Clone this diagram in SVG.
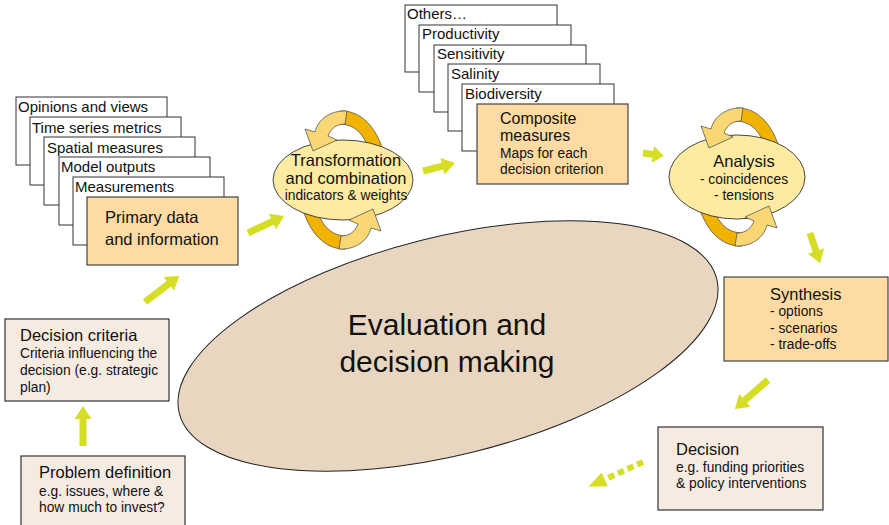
<svg xmlns="http://www.w3.org/2000/svg" xmlns:xlink="http://www.w3.org/1999/xlink" width="889" height="525" viewBox="0 0 889 525">
<style>
text{font-family:"Liberation Sans",Arial,sans-serif;fill:#111}
.lbl{font-size:15px}
.ttl{font-size:16.5px}
.sub{font-size:13.8px}
.big{font-size:30px}
.stk{fill:#fff;stroke:#333;stroke-width:1}
.hot{fill:#FDDBA2;stroke:#444;stroke-width:1.2}
.bei{fill:#F5EBE1;stroke:#333;stroke-width:1.2}
.ell{fill:#FCEBA1;stroke:#333;stroke-width:0.9}
.arw{fill:#D5DE24}
.dash{fill:none;stroke:#D5DE24;stroke-width:6;stroke-dasharray:6.5 4}
.dk{fill:#EFB300;stroke:#444;stroke-width:0.7}
.lt{fill:#F9D775;stroke:#444;stroke-width:0.7}
</style>
<defs>
<g id="twBack">
<path class="dk" d="M-3,-69 C14,-70 31,-58 40,-30 L25,-33 C19,-49 9,-56 -4,-56 Z"/>
<path class="dk" transform="rotate(180)" d="M-3,-69 C14,-70 31,-58 40,-30 L25,-33 C19,-49 9,-56 -4,-56 Z"/>
</g>
<g id="twFront">
<path class="lt" d="M4,-69 C-12,-70 -25,-61 -28,-48 L-38,-51 L-30,-29 L-6,-40 L-15,-44 C-12,-52 -6,-56 2,-56 Z"/>
<path class="lt" transform="rotate(180)" d="M4,-69 C-12,-70 -25,-61 -28,-48 L-38,-51 L-30,-29 L-6,-40 L-15,-44 C-12,-52 -6,-56 2,-56 Z"/>
</g>
</defs>

<g id="evaluation">
<ellipse cx="448" cy="346" rx="277" ry="109" transform="rotate(-14 448 346)" fill="#E9D6C1" stroke="#222" stroke-width="1"/>
<text class="big" x="447" y="335" text-anchor="middle">Evaluation and</text>
<text class="big" x="447" y="372" text-anchor="middle">decision making</text>
</g>

<g id="connectors">
<path class="arw" transform="translate(83,446) rotate(-90)" d="M0,-3.5 H27 V-8.5 L40,0 L27,8.5 V3.5 H0 Z"/>
<path class="arw" transform="translate(145,302) rotate(-37.4)" d="M0,-3.5 H30 V-8.5 L43,0 L30,8.5 V3.5 H0 Z"/>
<path class="arw" transform="translate(248,233) rotate(-25.3)" d="M0,-3.5 H27 V-8.5 L40,0 L27,8.5 V3.5 H0 Z"/>
<path class="arw" transform="translate(423,171) rotate(-14)" d="M0,-3.5 H20 V-8.5 L33,0 L20,8.5 V3.5 H0 Z"/>
<path class="arw" transform="translate(643,153) rotate(8)" d="M0,-3.5 H10 V-8.5 L21,0 L10,8.5 V3.5 H0 Z"/>
<path class="arw" transform="translate(810,233) rotate(71.6)" d="M0,-3.5 H19 V-8.5 L32,0 L19,8.5 V3.5 H0 Z"/>
<path class="arw" transform="translate(768,380) rotate(138.7)" d="M0,-3.5 H31 V-8.5 L44,0 L31,8.5 V3.5 H0 Z"/>
<g transform="translate(643,462) rotate(155.6)">
<line class="dash" x1="0" y1="0" x2="38" y2="0"/>
<path class="arw" d="M42,-7.5 L60,0 L42,7.5 Z"/>
</g>
</g>

<g id="primary-data">
<rect class="stk" x="16" y="97" width="151" height="68"/>
<text class="lbl" x="18" y="112">Opinions and views</text>
<rect class="stk" x="30" y="117" width="151" height="68"/>
<text class="lbl" x="32" y="132.5">Time series metrics</text>
<rect class="stk" x="44" y="137" width="151" height="68"/>
<text class="lbl" x="47" y="153">Spatial measures</text>
<rect class="stk" x="59" y="157" width="151" height="68"/>
<text class="lbl" x="61" y="172">Model outputs</text>
<rect class="stk" x="73" y="177" width="151" height="68"/>
<text class="lbl" x="75" y="192">Measurements</text>
<rect class="hot" x="87" y="197" width="151" height="68"/>
<text class="ttl" x="105" y="223">Primary data</text>
<text class="ttl" x="105" y="245">and information</text>
</g>

<g id="composite-measures">
<rect class="stk" x="405" y="5" width="152" height="67"/>
<text class="lbl" x="407" y="19">Others…</text>
<rect class="stk" x="419" y="25" width="152" height="67"/>
<text class="lbl" x="422" y="39">Productivity</text>
<rect class="stk" x="434" y="45" width="152" height="67"/>
<text class="lbl" x="437" y="59">Sensitivity</text>
<rect class="stk" x="448" y="64" width="152" height="67"/>
<text class="lbl" x="451" y="79">Salinity</text>
<rect class="stk" x="462" y="84" width="152" height="67"/>
<text class="lbl" x="465" y="99">Biodiversity</text>
<rect class="hot" x="477" y="104" width="151" height="80"/>
<text class="ttl" x="500" y="124" style="font-size:16px">Composite</text>
<text class="ttl" x="500" y="141" style="font-size:16px">measures</text>
<text class="sub" x="500" y="158">Maps for each</text>
<text class="sub" x="500" y="174">decision criterion</text>
</g>

<g id="transformation">
<use xlink:href="#twBack" transform="translate(343,180)"/>
<ellipse class="ell" cx="343" cy="180" rx="70" ry="40"/>
<use xlink:href="#twFront" transform="translate(343,180)"/>
<text class="ttl" x="346" y="166" text-anchor="middle">Transformation</text>
<text class="ttl" x="346" y="184" text-anchor="middle">and combination</text>
<text class="sub" x="346" y="200" text-anchor="middle">indicators &amp; weights</text>
</g>

<g id="analysis">
<use xlink:href="#twBack" transform="translate(739,177)"/>
<ellipse class="ell" cx="737" cy="177" rx="68" ry="42"/>
<use xlink:href="#twFront" transform="translate(739,177)"/>
<text class="ttl" x="744" y="167" text-anchor="middle">Analysis</text>
<text class="sub" x="744" y="184" text-anchor="middle">- coincidences</text>
<text class="sub" x="744" y="200" text-anchor="middle">- tensions</text>
</g>

<g id="synthesis">
<rect class="hot" x="724" y="277" width="164" height="84"/>
<text class="ttl" x="770" y="300">Synthesis</text>
<text class="sub" x="770" y="316">- options</text>
<text class="sub" x="770" y="333">- scenarios</text>
<text class="sub" x="770" y="349">- trade-offs</text>
</g>

<g id="decision">
<rect class="bei" x="658" y="427" width="165" height="83"/>
<text class="ttl" x="676" y="455">Decision</text>
<text class="sub" x="676" y="472">e.g. funding priorities</text>
<text class="sub" x="676" y="488">&amp; policy interventions</text>
</g>

<g id="decision-criteria">
<rect class="bei" x="5" y="319" width="164" height="82"/>
<text class="ttl" x="20" y="341">Decision criteria</text>
<text class="sub" x="20" y="358">Criteria influencing the</text>
<text class="sub" x="20" y="375">decision (e.g. strategic</text>
<text class="sub" x="20" y="392">plan)</text>
</g>

<g id="problem-definition">
<rect class="bei" x="21" y="456" width="164" height="75"/>
<text class="ttl" x="39" y="478">Problem definition</text>
<text class="sub" x="39" y="496">e.g. issues, where &amp;</text>
<text class="sub" x="39" y="512">how much to invest?</text>
</g>
</svg>
